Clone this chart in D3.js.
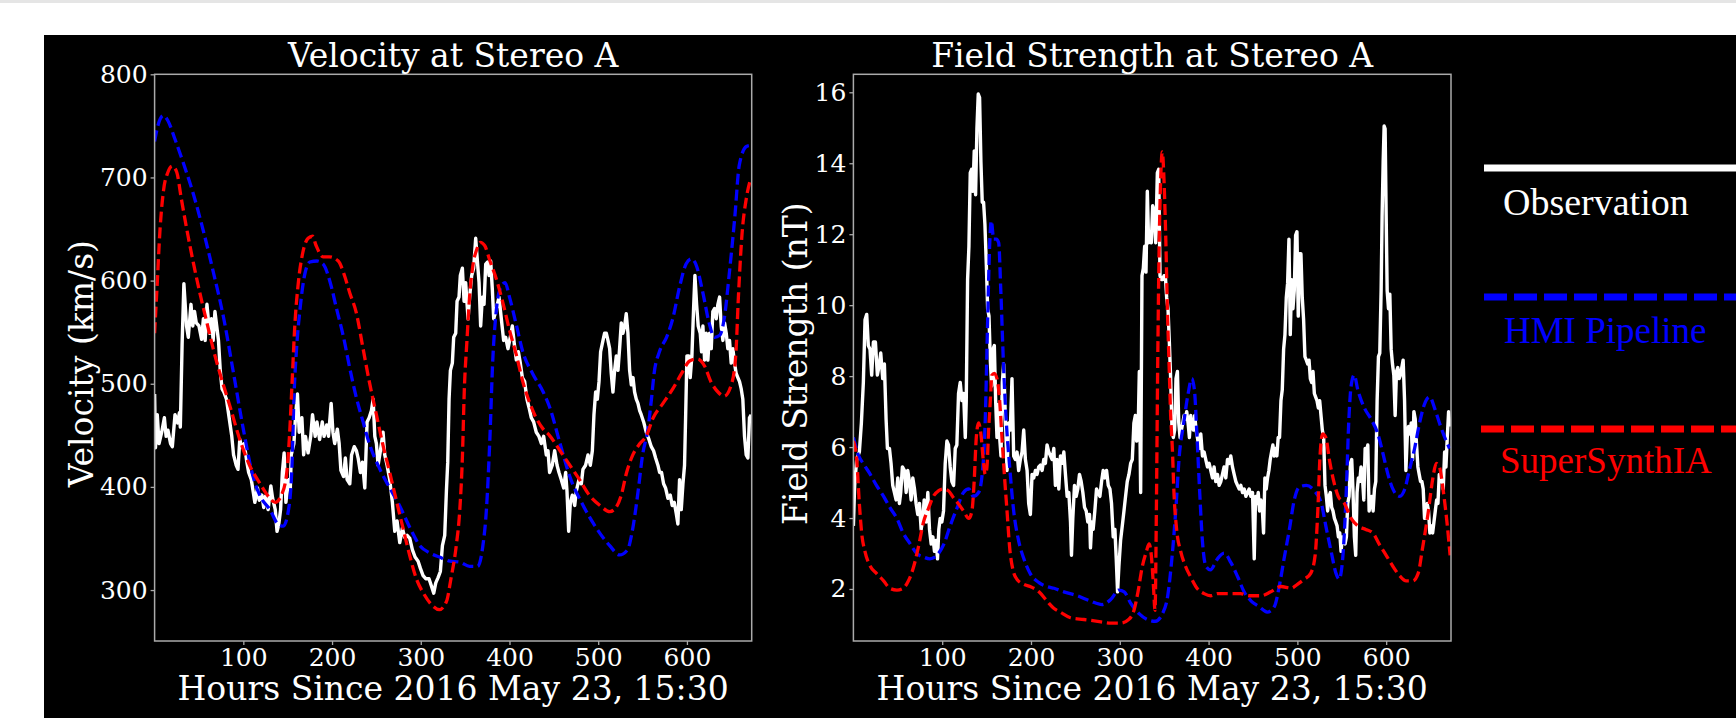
<!DOCTYPE html>
<html>
<head>
<meta charset="utf-8">
<script src="https://d3js.org/d3.v7.min.js"></script>
<style>
  body { margin: 0; background: #fff; }
  svg { display: block; }
  text { font-family: "DejaVu Serif", serif; fill: #fff; }
</style>
</head>
<body>
<div id="chart"></div>
<script>
// ---- data (hours since 2016 May 23, 15:30) ----
var hourTicks = [100, 200, 300, 400, 500, 600];
var velTicks = [300, 400, 500, 600, 700, 800];
var fieldTicks = [2, 4, 6, 8, 10, 12, 14, 16];
var seriesNames = ["Observation", "HMI Pipeline", "SuperSynthIA"];

// velocity (km/s)
var velObs = [[0,490],[1,438],[3,470],[5,442],[8,453],[11,467],[13,449],[15,455],[18,442],[20,439],[23,470],[26,462],[28,472],[29,458],[31,538],[33,597],[36,556],[38,545],[41,577],[43,556],[45,570],[47,559],[50,556],[53,543],[55,563],[57,542],[59,577],[62,549],[64,563],[66,542],[68,570],[70,556],[72,542],[74,513],[76,495],[78,492],[81,485],[84,467],[87,449],[89,431],[92,421],[94,417],[96,446],[98,439],[101,442],[104,424],[106,414],[109,407],[111,396],[113,385],[116,399],[118,387],[121,392],[123,380],[125,391],[128,378],[131,401],[133,389],[136,378],[138,357],[140,364],[142,378],[144,414],[146,433],[148,385],[151,407],[153,399],[154,431],[157,442],[159,470],[161,490],[163,453],[166,467],[168,431],[170,449],[173,433],[176,449],[178,470],[181,449],[183,463],[186,446],[189,463],[191,449],[194,460],[196,449],[199,481],[201,453],[203,442],[206,456],[208,442],[210,416],[213,410],[215,428],[217,407],[220,403],[222,431],[225,439],
  [227.5,435],[229.4,428],[232,414],[234.3,424],[236.9,399],[239.5,463],[241.8,467],[244.4,474],[246.3,485],[248.2,449],[250,442],[251.9,421],[254.5,435],[257.5,453],[259.4,431],[262,421],[265,407],[268,385],[270.7,357],[273.3,367],[276.3,346],[279.3,360],[281.9,351],[284.6,353],[287.6,350],[290.6,339],[293.6,332],[297,328],[299.6,321],[302.6,314],[305.6,311],[309.3,311],[312,304],[314.6,297],[316.9,307],[319.5,312],[322.1,318],[324.4,343],[327,353],[328.9,396],[330.4,424],[331.9,485],[333.4,513],[335.6,520],[337.1,545],[339.4,549],[340.9,580],[343.1,584],[344.6,605],[346.9,612],[348.8,580],[350.6,598],[353.3,563],[355.1,584],[357.4,605],[359.6,612],[361.9,641],[363.8,619],[365.7,598],[367.5,556],[369.4,584],[371.3,577],[373.2,616],[375.4,618],[376.9,605],[378.8,619],[380.7,591],[382.2,563],[384.4,570],[386.3,577],[388.2,584],[390.8,563],[393.4,542],[395.7,545],[398.3,534],[400.2,542],[403.2,556],[405.5,538],[407.7,523],[410,531],[412.2,520],[414.5,506],[417.1,502],[419.7,485],[422,477],[424.6,467],[427.2,463],[430.2,453],[433.2,449],[435.9,442],[438.5,449],[441.5,431],[443.4,435],[445.2,414],[448.2,421],[450.9,435],
  [453.6,421],[455.8,414],[458.4,407],[461.1,399],[463.3,414],[464.8,396],[466.7,357],[468.6,385],[470.8,392],[473.5,382],[475.3,396],[478.3,407],[481,403],[482.8,417],[485.8,421],[488.5,431],[491.1,421],[493.4,435],[495.2,470],[497.1,492],[499,485],[500.9,502],[502.7,531],[505.4,542],[507.2,549],[509.1,549],[511,542],[512.9,534],[514.7,510],[516.6,492],[518.5,513],[520.4,527],[522.3,513],[524.1,534],[526,559],[527.9,549],[529.8,556],[531.6,568],[533.5,549],[535.4,513],[537.3,499],[539.2,506],[541,492],[542.9,485],[544.8,481],[546.7,474],[548.5,470],[551.2,463],[554.2,453],[557.2,446],[559.8,439],[562.4,435],[564.7,428],[567.3,421],[569.2,414],[571.4,414],[573.7,403],[575.9,399],[578.6,389],[581.2,392],[583.4,382],[585.7,385],[588,374],[589.8,364],[591.7,407],[593.6,378],[595.5,403],[597.3,421],[598.5,467],[600,527],[602.2,527],[603.7,506],[605.6,527],[607.5,573],[609,605],[610.9,577],[612.7,556],[615,549],[616.5,531],[618,556],[619.9,523],[621.7,549],[623.6,523],[625.5,549],[627.4,534],[629.2,570],[631.1,573],[633,563],[634.9,577],[636.8,584],[638.6,556],[640.5,542],[642.4,559],[644.3,549],[646.1,534],[648,542],[649.9,520],[651.8,534],[653.6,520],[655.5,510],[657.4,506],[659.3,502],[661.2,495],[663,485],[664.9,449],[666.8,431],[668.7,428],[670.5,467],[672.4,470]];

var velHmi = [[0,735],[4,751],[10,760],[15,755],[23,737],[32,715],[44,683],[55,648],[66,609],[78,563],[89,510],[100,456],[111,410],[119,391],[130,378],[139,364],[145,362],[151,378],[155,424],[157,485],[160,534],[164,573],[169,605],[175,618],[183,619],[190,616],[198,598],[205,573],[213,545],[220,515],[227,488],[235,463],[242,442],[254,417],[265,399],[276,382],[288,360],[299,343],[310,336],[321,332],[333,328],[344,327],[355,323],[364,323],[370,343],[374,378],[378,449],[381,520],[385,570],[389,591],[395,598],[400,584],[408,556],[415,531],[426,510],[438,492],[445,478],[457,442],[468,410],[483,382],[498,360],[513,343],[524,334],[533,339],[539,360],[545,396],[550,431],[556,456],[560,485],[563,510],[569,531],[577,545],[584,563],[592,595],[599,616],[605,621],[610,616],[618,588],[625,559],[631,545],[637,547],[642,563],[648,609],[654,662],[659,712],[667,730],[671,731]];

var velSsia = [[0,549],[3,598],[6,648],[10,687],[15,705],[20,711],[25,705],[30,680],[36,651],[44,616],[51,588],[59,559],[66,534],[75,506],[85,478],[96,446],[107,421],[119,403],[128,391],[136,385],[143,392],[149,414],[152,449],[155,502],[158,556],[162,598],[167,627],[173,641],[178,643],[182,634],[190,623],[197,623],[207,619],[214,605],[220,588],[227,570],[235,534],[242,502],[250,470],[257,442],[265,414],[273,385],[280,360],[288,332],[295,311],[303,297],[312,286],[321,281],[329,289],[334,311],[340,343],[344,378],[347,431],[349,492],[352,541],[355,584],[359,616],[363,630],[367,637],[372,634],[378,619],[385,602],[393,577],[400,552],[408,527],[415,502],[423,481],[430,467],[438,456],[445,450],[457,435],[468,421],[479,407],[490,392],[502,382],[513,376],[520,380],[526,392],[532,414],[539,431],[547,442],[554,449],[562,467],[573,481],[584,495],[594,510],[603,522],[612,524],[620,517],[627,502],[635,492],[642,488],[650,499],[655,527],[658,584],[662,644],[667,680],[672,699]];

// field strength (nT)
var fieldObs = [[0,3.78],[1.4,4.92],[3.7,5.65],[6.7,5.86],[9,6.68],[11.2,7.82],[13.1,9.59],[15,9.74],[16.8,8.86],[18.7,8.76],[20.6,8.03],[22.5,8.96],[24.8,8.96],[27,8.03],[29.3,8.34],[30.8,8.65],[33,7.93],[34.9,8.34],[36.8,6.79],[38.3,5.96],[40.6,5.96],[42.4,5.54],[44.3,4.92],[46.2,4.72],[48.1,4.51],[50,5.13],[51.8,4.41],[53.3,4.72],[55.2,5.44],[57.5,5.34],[59.4,4.72],[61.2,5.34],[63.1,5.03],[65,4.51],[66.9,5.13],[68.8,4.82],[70.6,4.41],[72.5,4.1],[74.4,4.41],[76.3,3.68],[78.2,3.99],[79.7,4.51],[81.9,3.89],[83.8,4.72],[85.7,3.68],[87.6,3.27],[89.5,3.47],[91.3,3.06],[93.2,3.37],[94.7,2.85],[96.2,3.68],[97.7,3.99],[99.6,3.89],[101.5,4.2],[103.4,5.54],[105.3,6.17],[107.1,6.06],[109,5.44],[110.9,5.03],[112.8,4.92],[114.7,5.96],[116.5,6.06],[118.4,7.51],[120.3,7.82],[122.2,7.31],[124.1,7.51],[126,6.27],[127.1,7.31],[128.6,10.72],[130.1,11.66],[131.6,13.73],[133.1,13.83],[134.6,13.21],[136.1,14.35],[137.6,13.11],[139.1,14.97],[140.6,15.95],[142.1,15.85],[143.6,14.04],[145.1,12.9],[146.6,12.9],[148.1,12.28],[149.7,11.14],[151.2,9.9],[152.7,9.69],[154.2,8.45],[155.7,7.72],[157.2,8.76],[158.7,8.86],[160.2,7.31],[161.7,6.27],[163.2,7.2],[164.7,6.27],[166.2,5.75],[167.7,7.82],[169.2,8.34],[171.1,6.89],[173,5.34],[174.9,6.68],[176.7,6.48],[178.6,7.93],[180.5,5.75],[182.4,5.65],[184.3,5.86],[186.1,5.34],[188,5.65],[189.9,5.86],[191.8,6.48],[193.7,5.65],[195.6,5.34],[197.4,4.41],[199.3,4.1],[201.2,5.23],[203.1,5.13],[205,5.34],[206.8,5.23],[208.7,5.44],[210.6,5.49],[212.5,5.34],[214.4,5.65],[216.2,5.54],[218.1,6.06],[220,5.86],
  [223.8,5.65],[225.7,5.96],[227.5,4.92],[229.4,5.65],[231.3,4.82],[233.2,5.75],[235.1,5.54],[237,5.86],[238.8,5.23],[240.7,4.61],[242.6,4.72],[244.5,3.89],[245.6,2.95],[247.1,3.99],[249,4.92],[250.9,4.61],[252.7,4.82],[254.6,5.23],[256.5,5.03],[258.4,4.72],[260.3,4.3],[262.2,4.2],[264,3.89],[265.9,4.1],[267,3.16],[268.5,3.89],[270,3.68],[271.9,4.2],[273.8,4.82],[275.7,4.72],[277.6,4.61],[279.5,5.03],[281.3,5.34],[283.2,5.13],[285.1,5.34],[287,4.92],[288.9,4.82],[290.7,4.41],[292.6,3.47],[294.5,3.68],[296,2.85],[297.5,1.92],[299,2.64],[300.9,3.37],[302.8,3.78],[304.7,4.2],[306.5,4.61],[308.4,5.03],[310.3,5.23],[312.2,5.54],[314.1,5.65],[315.9,6.68],[317.5,6.89],[319,6.17],[320.5,6.27],[322,8.13],[323.5,4.72],[325,10.83],[326.5,11.04],[328,11.66],[329.5,10.93],[331,13.21],[332.5,11.76],[334,12.07],[335.5,11.76],[337,12.8],[338.5,12.69],[340.4,11.76],[342.3,13.73],[343.8,13.83],[345.3,10.83],[346.8,10.72],[348.3,10.72],[349.8,10.83],[351.3,10.83],[352.8,10.21],[354.3,9.9],[355.8,8.96],[357.3,7.93],[358.8,6.48],[360.3,6.27],[361.8,6.48],[363.3,7.93],[364.9,8.13],[366.4,6.68],[367.9,6.27],[369.4,6.48],[370.9,6.68],[372.4,6.89],[373.9,6.79],[375.4,7.0],[376.9,6.68],[378.4,6.27],[379.9,6.89],[381.4,6.58],[382.9,6.48],[384.4,6.89],[385.9,6.48],[387.4,6.27],[389.3,5.96],[391.2,6.37],[393.1,5.75],[395,5.86],[396.8,5.65],[398.7,5.44],[400.6,5.54],[402.5,5.34],[404.4,5.13],[406.2,5.44],[408.1,5.03],[410,5.23],[411.9,4.92],[413.8,5.03],[415.6,5.23],[417.5,5.44],[419.4,5.13],[421.3,5.65],[423.2,5.54],[425,5.75],[426.9,5.44],[428.8,5.23],[430.7,5.03],[432.6,4.92],[434.5,4.82],[436.3,4.92],[438.2,4.72],[440.1,4.82],[442,4.61],[443.9,4.72],[445.7,4.82],[447.6,4.61],
  [449.5,4.72],[451.4,2.85],[452.9,4.61],[454.4,4.41],[455.9,4.72],[457.4,4.2],[458.9,4.51],[460.4,4.3],[461.9,3.58],[463.4,5.13],[464.9,4.82],[466.4,5.13],[467.9,5.34],[469.4,5.65],[470.9,5.86],[472.4,6.06],[473.9,5.75],[475.4,5.96],[476.9,5.75],[478.4,6.27],[479.9,6.27],[481.5,7.31],[483,7.62],[484.5,8.76],[486,9.17],[487.5,10.21],[489,10.62],[490.5,11.86],[492,9.17],[493.5,10.72],[495,9.9],[496.5,10.41],[498,11.97],[499.5,12.07],[501,9.69],[502.5,11.45],[504,11.45],[505.5,10.21],[507,9.59],[508.5,8.55],[510.1,8.45],[511.6,8.34],[513.1,8.45],[514.6,7.93],[516.1,7.82],[517.6,8.13],[519.1,7.51],[520.6,7.41],[522.1,7.31],[523.6,7.1],[525.1,7.31],[526.6,6.89],[528.1,6.48],[529.6,6.27],[531.1,4.92],[532.6,4.61],[534.1,4.2],[535.6,4.61],[537.1,4.72],[538.6,4.3],[540.1,4.2],[541.7,3.99],[543.2,3.89],[544.7,3.78],[546.2,3.47],[547.7,3.58],[549.2,3.06],[550.7,3.47],[552.2,3.37],[553.7,3.27],[555.2,3.47],[556.7,4.41],[558.2,4.61],[559.7,5.54],[561.2,5.65],[562.7,4.72],[564.2,3.47],[565.7,2.95],[567.2,4.72],[568.7,5.13],[570.2,5.03],[571.7,5.44],[573.3,5.13],[574.8,4.51],[576.3,5.96],[577.8,5.86],[579.3,6.06],[580.8,4.2],[582.3,4.41],[583.8,4.61],[585.3,4.2],[586.8,4.82],[588.3,5.03],[589.8,7.31],[591.3,8.55],[592.8,8.65],[594.3,10.41],[595.4,12.49],[596.6,14.04],[597.7,15.05],[598.8,14.97],[600,12.49],[601.1,10.41],[602.6,9.9],[604.1,10.31],[605.6,8.76],[607.1,8.34],[608.6,8.03],[610.1,6.89],[611.6,8.13],[613.1,8.24],[614.6,7.93],[616.1,8.03],[617.6,8.24],[619.1,8.45],[620.7,7.31],[622.2,5.34],[623.7,6.27],[625.2,6.58],[626.7,6.37],[628.2,6.68],[629.7,5.65],[631.2,7.0],[632.7,6.79],[634.2,6.06],[635.7,5.44],[637.2,5.23],[638.7,5.03],[640.2,5.03],[641.7,4.82],[643.2,3.99],[644.7,3.99],[646.2,4.41],[647.7,4.2],[649.2,3.58],[650.8,3.78],[652.3,3.58],[653.8,3.89],[655.3,4.2],[656.8,4.51],[658.3,4.41],[659.8,5.23],[661.3,5.03],[662.8,5.13],[664.3,4.82],[665.8,5.86],[667.3,5.44],[668.8,6.27],[670.3,7.0],[671.8,6.58]];

var fieldHmi = [[0,6.27],[6,5.75],[11,5.54],[19,5.23],[26,4.92],[34,4.61],[41,4.3],[49,3.99],[56,3.58],[64,3.27],[71,3.01],[79,2.9],[86,2.85],[94,2.95],[102,3.27],[109,3.78],[117,4.3],[124,4.72],[130,4.82],[135,4.61],[141,4.72],[145,5.23],[148.5,6.79],[151,9.38],[153.4,11.66],[155.3,12.38],[158,11.86],[161,11.86],[163.6,11.76],[166,10.41],[169,8.34],[172,6.79],[176,5.44],[180.5,4.2],[186,3.37],[192,2.85],[199,2.44],[209,2.18],[218,2.07],[226,2.02],[237,1.92],[252,1.81],[267,1.66],[280,1.56],[290,1.71],[299,1.97],[305,1.92],[312,1.61],[322,1.3],[331,1.14],[340,1.09],[348,1.3],[354,1.81],[359,2.95],[363,4.2],[367,5.75],[372,6.68],[377,7.51],[381,7.93],[384,7.62],[387,6.27],[390,4.72],[393,3.37],[397,2.64],[402,2.54],[410,2.85],[417.5,3.01],[425,2.75],[433,2.33],[440,1.92],[448,1.66],[457,1.5],[466,1.35],[474,1.5],[480,2.13],[485,2.85],[491,3.68],[496.5,4.51],[502,4.87],[510,4.92],[519,4.77],[527,4.41],[532,3.78],[538,3.06],[543.5,2.44],[547,2.28],[551,2.85],[555,4.72],[558,6.79],[560.5,7.72],[564,8.03],[568,7.62],[575.5,7.1],[583,6.79],[590.6,6.37],[596,5.86],[602,5.23],[607.5,4.82],[615,4.61],[621,4.82],[626,5.34],[632,5.96],[637.6,6.68],[643,7.2],[649,7.41],[654.5,7.1],[660,6.68],[666,6.27],[671.4,5.96]];

var fieldSsia = [[0,6.17],[3.7,5.65],[6.7,4.41],[9.3,3.58],[13,3.06],[19,2.64],[26,2.44],[34,2.23],[41,2.02],[49,1.97],[56,2.02],[62,2.23],[68,2.64],[73,3.16],[79,3.89],[85,4.3],[90,4.61],[96,4.77],[101.5,4.82],[107,4.77],[113,4.56],[118,4.41],[124,4.2],[130,3.99],[133.5,4.2],[136,5.03],[138.4,6.27],[141,6.68],[143.6,6.37],[146.6,5.54],[148.5,5.23],[150.4,5.44],[152.3,6.48],[154.2,7.31],[156,8.03],[158.7,8.08],[161.7,7.93],[164.7,7.31],[167.3,6.27],[170,5.23],[173,4.2],[176,3.16],[179.7,2.54],[184,2.28],[192,2.13],[199,2.07],[209,1.92],[218,1.66],[226,1.45],[233,1.35],[244.5,1.19],[259.5,1.14],[275,1.09],[290,1.04],[301,1.04],[310,1.14],[316,1.4],[320.5,1.92],[325.4,2.64],[330,3.06],[333,3.27],[335.5,2.95],[337.8,2.13],[339.7,1.4],[341.2,4.2],[342.7,8.34],[344.2,11.45],[346,13.52],[347.9,14.32],[349.8,13.52],[351.7,11.97],[353.6,9.9],[355.5,8.34],[357.3,6.89],[359.2,5.96],[361,4.72],[364,3.68],[368.6,3.06],[374,2.64],[380,2.33],[387,2.02],[395,1.87],[402.5,1.81],[410,1.87],[418,1.87],[427,1.87],[436,1.87],[446,1.81],[459,1.81],[470,1.92],[481.5,2.07],[493,2.02],[500,2.13],[508,2.28],[515,2.44],[520,2.95],[523,4.2],[525.5,5.75],[528.5,6.37],[532,6.27],[536,5.65],[541,5.03],[546,4.61],[553,4.41],[560.5,3.99],[568,3.78],[577,3.68],[585,3.58],[592,3.27],[600,2.95],[607.5,2.64],[615,2.38],[622.5,2.23],[630,2.23],[636,2.44],[641,3.16],[647,4.1],[652.6,5.13],[656.4,5.54],[660,5.44],[664,4.82],[668,3.99],[672,2.95]];

// ---- drawing ----
var W = 1736, H = 726;
var frameColor = "#aaaaaa";

var svg = d3.select("#chart").append("svg")
    .attr("width", W)
    .attr("height", H);

svg.append("rect").attr("width", W).attr("height", 3).attr("fill", "#e5e5e5");
svg.append("rect").attr("x", 44).attr("y", 35).attr("width", W - 44).attr("height", 683).attr("fill", "#000");

function drawPanel(p, idx) {
  var x = d3.scaleLinear().domain([0, 673]).range([p.left, p.right]);
  var y = d3.scaleLinear().domain(p.yDomain).range([p.bottom, p.top]);

  var clipId = "clip" + idx;
  svg.append("clipPath").attr("id", clipId)
    .append("rect")
      .attr("x", p.left).attr("y", p.top)
      .attr("width", p.right - p.left).attr("height", p.bottom - p.top);

  var g = svg.append("g").attr("clip-path", "url(#" + clipId + ")");

  var line = d3.line().x(function(d) { return x(d[0]); }).y(function(d) { return y(d[1]); });
  var smooth = d3.line().curve(d3.curveMonotoneX)
      .x(function(d) { return x(d[0]); }).y(function(d) { return y(d[1]); });

  g.append("path").datum(p.obs)
      .attr("d", line)
      .attr("fill", "none")
      .attr("stroke", "#fff")
      .attr("stroke-width", 3.4)
      .attr("stroke-linejoin", "round");

  g.append("path").datum(p.hmi)
      .attr("d", smooth)
      .attr("fill", "none")
      .attr("stroke", "#0000ff")
      .attr("stroke-width", 3.3)
      .attr("stroke-dasharray", "11,4.8");

  g.append("path").datum(p.ssia)
      .attr("d", smooth)
      .attr("fill", "none")
      .attr("stroke", "#ff0000")
      .attr("stroke-width", 3.3)
      .attr("stroke-dasharray", "11,4.8");

  // axes
  var xAxis = svg.append("g")
      .attr("transform", "translate(0," + p.bottom + ")")
      .call(d3.axisBottom(x).tickValues(hourTicks).tickSize(4).tickPadding(3));
  var yAxis = svg.append("g")
      .attr("transform", "translate(" + p.left + ",0)")
      .call(d3.axisLeft(y).tickValues(p.yTicks).tickSize(4).tickPadding(3));

  [xAxis, yAxis].forEach(function(a) {
    a.select(".domain").remove();
    a.selectAll(".tick line").attr("stroke", frameColor).attr("stroke-width", 1.3);
    a.selectAll(".tick text")
      .attr("fill", "#fff")
      .style("font-family", "'DejaVu Serif', serif")
      .style("font-size", "25px");
  });

  svg.append("rect")
      .attr("x", p.left).attr("y", p.top)
      .attr("width", p.right - p.left).attr("height", p.bottom - p.top)
      .attr("fill", "none")
      .attr("stroke", frameColor)
      .attr("stroke-width", 1.5);

  var cx = (p.left + p.right) / 2;
  svg.append("text")
      .attr("x", cx).attr("y", 67)
      .attr("text-anchor", "middle")
      .style("font-size", "33px")
      .text(p.title);

  svg.append("text")
      .attr("x", cx).attr("y", 700)
      .attr("text-anchor", "middle")
      .style("font-size", "33px")
      .text("Hours Since 2016 May 23, 15:30");

  svg.append("text")
      .attr("transform", "translate(" + p.yLabelX + "," + ((p.top + p.bottom) / 2 + 6) + ") rotate(-90)")
      .attr("text-anchor", "middle")
      .attr("dy", "0.35em")
      .style("font-size", "33px")
      .text(p.yLabel);
}

drawPanel({
  left: 154.6, right: 751.7, top: 74.3, bottom: 641,
  yDomain: [250.6, 800], yTicks: velTicks,
  title: "Velocity at Stereo A", yLabel: "Velocity (km/s)", yLabelX: 81,
  obs: velObs, hmi: velHmi, ssia: velSsia
}, 0);

drawPanel({
  left: 853.4, right: 1451, top: 74.3, bottom: 641,
  yDomain: [0.534, 16.507], yTicks: fieldTicks,
  title: "Field Strength at Stereo A", yLabel: "Field Strength (nT)", yLabelX: 795,
  obs: fieldObs, hmi: fieldHmi, ssia: fieldSsia
}, 1);

// legend
var legendColors = ["#ffffff", "#0000ff", "#ff0000"];
var legendLineY = [168, 297, 429];
var legendTextY = [215, 343, 473];
var legendTextX = [1503, 1504, 1500];
var legend = svg.append("g");
seriesNames.forEach(function(name, i) {
  legend.append("line")
      .attr("x1", i === 2 ? 1481 : 1484).attr("x2", W)
      .attr("y1", legendLineY[i]).attr("y2", legendLineY[i])
      .attr("stroke", legendColors[i])
      .attr("stroke-width", 7)
      .attr("stroke-dasharray", i === 0 ? null : "23,7");
  legend.append("text")
      .attr("x", legendTextX[i]).attr("y", legendTextY[i])
      .style("font-family", "'Liberation Serif', serif")
      .style("font-size", i === 0 ? "38px" : "37px")
      .style("fill", legendColors[i])
      .text(name);
});
</script>
</body>
</html>
